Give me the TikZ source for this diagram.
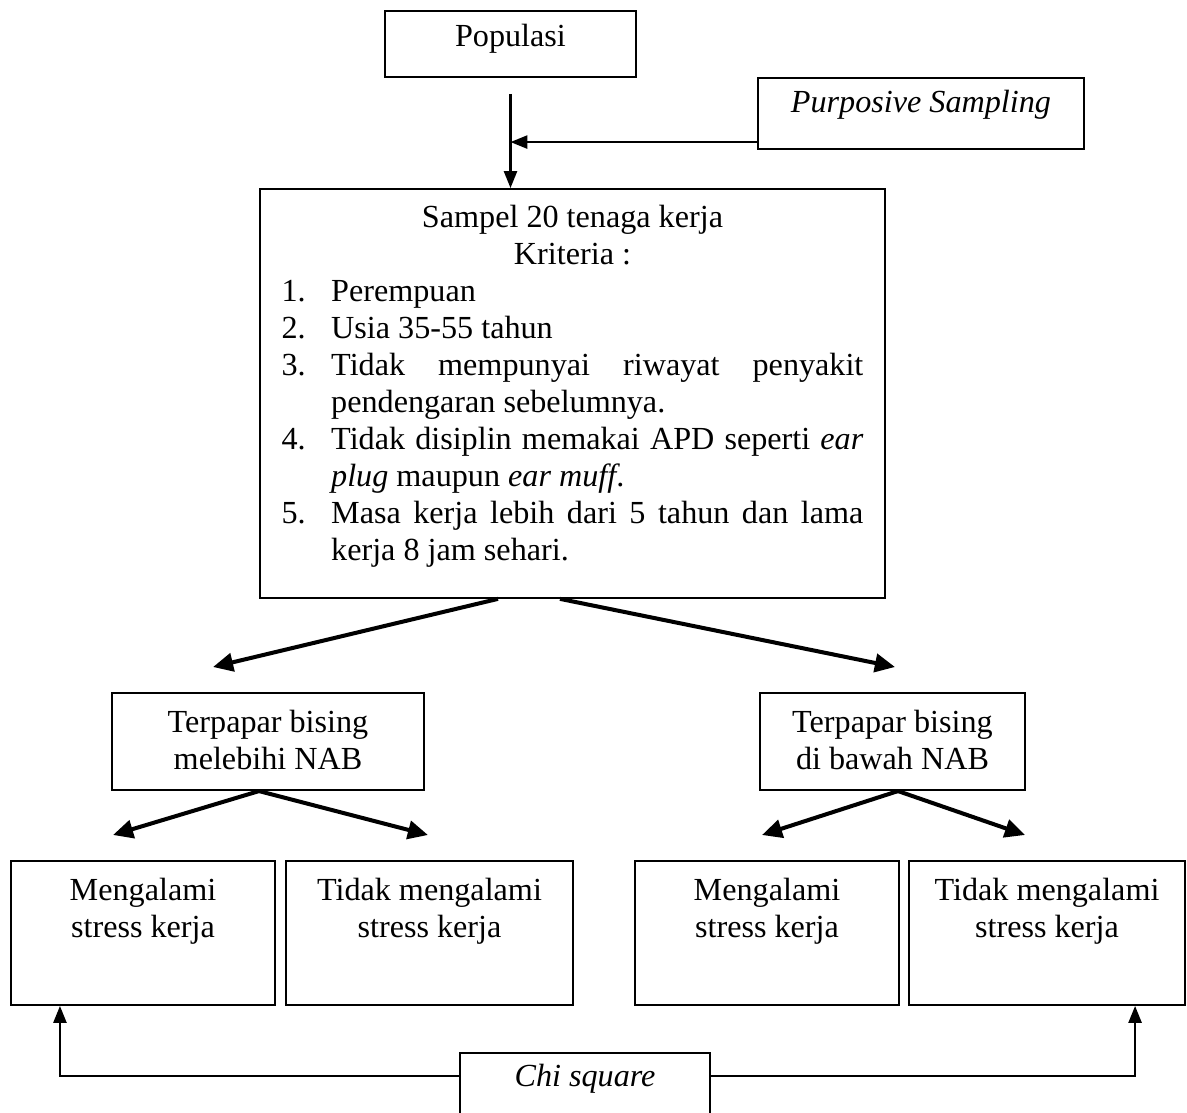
\documentclass[tikz,border=0pt]{standalone}
\usepackage{fontspec}
\setmainfont{Liberation Serif}
\usepackage{tikz}
\usetikzlibrary{calc}
\usetikzlibrary{arrows.meta}
\newcommand{\topgap}[1]{\rule{0pt}{#1}}
\newcommand{\botgap}[1]{\rule[-#1]{0pt}{#1}}
\newcommand{\krit}[1]{\par\noindent\hangindent=18.5pt\hangafter=1\makebox[18.5pt][l]{#1}\ignorespaces}

\begin{document}
\begin{tikzpicture}[x=0.373pt,y=-0.373pt,
  box/.style={draw,line width=0.75pt,anchor=north,inner xsep=3pt,inner ysep=0pt,
    align=center,font=\fontsize{12pt}{13.8pt}\selectfont},
  arr/.style={-{Triangle[length=6.3pt,width=4.9pt]},line width=0.75pt},
  fat/.style={-{Triangle[length=7.5pt,width=6.8pt]},line width=1.5pt}]
  \useasboundingbox (0,0) rectangle (1187,1112);
  % top
  \node[box,minimum width=93.6pt] (pop) at (510.5,10) {\topgap{13.2pt}Populasi\botgap{11.4pt}};
  \node[box,minimum width=121.6pt] (purp) at (921,77) {\topgap{13pt}\textit{Purposive Sampling}\botgap{13.5pt}};
  \node[box,text width=217pt,inner xsep=8pt,align=justify] (sampel) at (572.5,188) {%
    {\centering\topgap{14.5pt}Sampel 20 tenaga kerja\\ Kriteria :\par}%
    \krit{1.}Perempuan
    \krit{2.}Usia 35-55 tahun
    \krit{3.}Tidak mempunyai riwayat penyakit\linebreak pendengaran sebelumnya.
    \krit{4.}Tidak disiplin memakai APD seperti \textit{ear}\linebreak \textit{plug} maupun \textit{ear muff}.
    \krit{5.}Masa kerja lebih dari 5 tahun dan lama\linebreak kerja 8 jam sehari.\botgap{13.8pt}\par};
  \draw[arr] ($(pop.south)+(0,16)$) -- (pop.south |- sampel.north);
  \draw[arr] ($(purp.south west)+(0,-8)$) coordinate (pj) -- (pj -| pop.south);
  % middle
  \node[box,minimum width=116.4pt] (lebih) at (268,692) {\topgap{14.9pt}Terpapar bising\\melebihi NAB\botgap{7.5pt}};
  \node[box,minimum width=98.8pt] (bawah) at (892.5,692) {\topgap{14.9pt}Terpapar bising\\di bawah NAB\botgap{7.5pt}};
  \coordinate (tipL) at (213,667);
  \coordinate (tipR) at (895,667);
  \draw[fat] ($(sampel.south)+(-74.5,0)$) -- (tipL);
  \draw[fat] ($(sampel.south)+(-12.5,0)$) -- (tipR);
  % bottom
  \node[box,minimum width=98.5pt] (m1) at (143,860) {\topgap{14.9pt}Mengalami\\stress kerja\botgap{25pt}};
  \node[box,minimum width=107pt] (m2) at (429.5,860) {\topgap{14.9pt}Tidak mengalami\\stress kerja\botgap{25pt}};
  \node[box,minimum width=98.5pt] (m3) at (767,860) {\topgap{14.9pt}Mengalami\\stress kerja\botgap{25pt}};
  \node[box,minimum width=103pt] (m4) at (1047,860) {\topgap{14.9pt}Tidak mengalami\\stress kerja\botgap{25pt}};
  \coordinate (tipA) at (113,835);
  \coordinate (tipB) at (428,835);
  \coordinate (tipC) at (762,835);
  \coordinate (tipD) at (1025,835);
  \draw[fat] ($(lebih.south)+(-9,0)$) -- (tipA);
  \draw[fat] ($(lebih.south)+(-9,0)$) -- (tipB);
  \draw[fat] ($(bawah.south)+(5.5,0)$) -- (tipC);
  \draw[fat] ($(bawah.south)+(5.5,0)$) -- (tipD);
  % uji
  \node[box,minimum width=93.3pt] (chi) at (585,1052) {\topgap{12.6pt}\textit{Chi square}\botgap{20pt}};
  \draw[arr] ($(chi.north west)+(0,24)$) -| ($(m1.south west)+(50,0)$);
  \draw[arr] ($(chi.north east)+(0,24)$) -| ($(m4.south east)+(-51,0)$);
\end{tikzpicture}
\end{document}
